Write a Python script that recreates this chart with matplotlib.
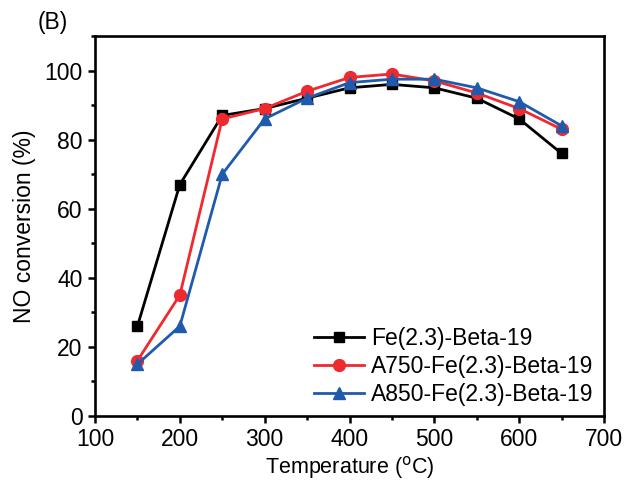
import matplotlib
matplotlib.use("Agg")
import matplotlib.pyplot as plt
from matplotlib.ticker import MultipleLocator

plt.rcParams['font.family'] = ['Liberation Sans', 'DejaVu Sans']

temps = [150, 200, 250, 300, 350, 400, 450, 500, 550, 600, 650]
fe = [26, 67, 87, 89, 92, 95, 96, 95, 92, 86, 76]
a750 = [16, 35, 86, 89, 94, 98, 99, 97, 93.5, 89, 83]
a850 = [15, 26, 70, 86, 92, 96.5, 97.5, 97.5, 95, 91, 84]
labels = ['Fe(2.3)-Beta-19', 'A750-Fe(2.3)-Beta-19', 'A850-Fe(2.3)-Beta-19']

FS = 16.5
fig = plt.figure(figsize=(6.25, 4.8), dpi=100)
ax = fig.add_axes([95/625, 1-416/480, (604-95)/625, (416-36)/480])

ax.plot(temps, fe, color='black', marker='s', markersize=7.5, lw=2, label=labels[0])
ax.plot(temps, a750, color='#ee2a2f', marker='o', markersize=8.5, lw=2, label=labels[1])
ax.plot(temps, a850, color='#1f5aad', marker='^', markersize=9, lw=2, label=labels[2])

ax.set_xlim(100, 700)
ax.set_ylim(0, 110)
ax.set_xticks([100, 200, 300, 400, 500, 600, 700])
ax.set_yticks([0, 20, 40, 60, 80, 100])
ax.xaxis.set_minor_locator(MultipleLocator(50))
ax.yaxis.set_minor_locator(MultipleLocator(10))
ax.tick_params(which='both', direction='out', width=1.8, labelsize=FS, top=False, right=False, pad=4)
ax.tick_params(which='major', length=5)
ax.tick_params(which='minor', length=3)
for s in ax.spines.values():
    s.set_linewidth(1.9)

ax.set_xlabel('Temperature ($^{\\mathrm{o}}$C)', fontsize=15.5, labelpad=2)
ax.set_ylabel('NO conversion (%)', fontsize=FS, labelpad=6)
fig.text(38/625, 1-22/480, '(B)', fontsize=FS, va='center')

ax.legend(loc='lower right', frameon=False, fontsize=FS, handlelength=2.2,
          handletextpad=0.3, labelspacing=0.22, borderaxespad=0.15, borderpad=0.3)

fig.savefig('out.png', dpi=100)
